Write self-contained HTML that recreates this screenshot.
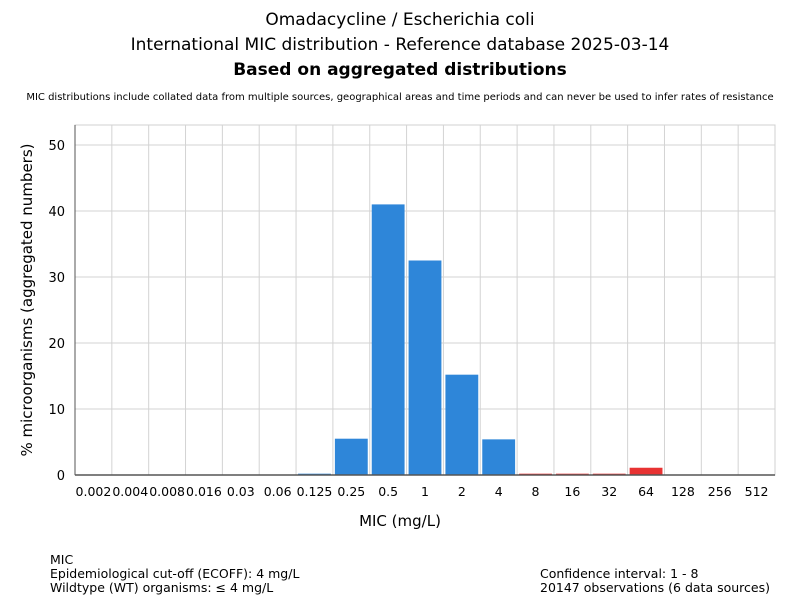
<!DOCTYPE html>
<html><head><meta charset="utf-8"><style>
body{margin:0;background:#fff;font-family:"Liberation Sans","DejaVu Sans",sans-serif;}
svg text{font-family:"DejaVu Sans","Liberation Sans",sans-serif;}
</style></head><body>
<svg id="chart" width="800" height="600" xmlns="http://www.w3.org/2000/svg">
<text x="400" y="25" text-anchor="middle" font-size="17" fill="#000">Omadacycline / Escherichia coli</text>
<text x="400" y="50" text-anchor="middle" font-size="17" fill="#000">International MIC distribution - Reference database 2025-03-14</text>
<text x="400" y="75" text-anchor="middle" font-size="17" font-weight="bold" fill="#000">Based on aggregated distributions</text>
<text x="400" y="100" text-anchor="middle" font-size="10" fill="#000">MIC distributions include collated data from multiple sources, geographical areas and time periods and can never be used to infer rates of resistance</text>
<g id="grid"></g>
<g id="bars"></g>
<g id="axes"></g>
<text x="400" y="526" text-anchor="middle" font-size="15">MIC (mg/L)</text>
<text transform="translate(32,300) rotate(-90)" text-anchor="middle" font-size="15">% microorganisms (aggregated numbers)</text>
<g font-size="12.5" fill="#000">
<text x="50" y="564">MIC</text>
<text x="50" y="578">Epidemiological cut-off (ECOFF): 4 mg/L</text>
<text x="50" y="592">Wildtype (WT) organisms: ≤ 4 mg/L</text>
</g>
<g font-size="12.5" fill="#000">
<text x="540" y="578">Confidence interval: 1 - 8</text>
<text x="540" y="592">20147 observations (6 data sources)</text>
</g>
</svg>
<script>
const categories=["0.002","0.004","0.008","0.016","0.03","0.06","0.125","0.25","0.5","1","2","4","8","16","32","64","128","256","512"];
const values=[0,0,0,0,0,0,0.2,5.5,41,32.5,15.2,5.4,0.2,0.2,0.2,1.1,0,0,0];
const yTicks=[0,10,20,30,40,50];
const ecoff=4;
const NS="http://www.w3.org/2000/svg";
const L=75,R=775,T=125,B=475;
const bw=(R-L)/categories.length;
function xPos(i){return L+i*bw;}
function yPos(v){return B-v*6.6;}
function mk(tag,attrs,parent){const e=document.createElementNS(NS,tag);for(const k in attrs)e.setAttribute(k,attrs[k]);parent.appendChild(e);return e;}
const grid=document.getElementById('grid'),bars=document.getElementById('bars'),axes=document.getElementById('axes');
mk('rect',{x:L,y:T,width:R-L,height:B-T,fill:'#fff',stroke:'#d0d0d0'},grid);
yTicks.forEach(t=>{
  const l=mk('line',{x1:L,x2:R,y1:yPos(t),y2:yPos(t),stroke:'#d3d3d3'},grid);
  
  
  const tx=mk('text',{x:L-10,y:yPos(t)+5,'text-anchor':'end','font-size':13,fill:'#000'},axes);
  tx.textContent=t;
  
  
});
categories.forEach((c,i)=>{
  if(i>0){const l=mk('line',{x1:xPos(i),x2:xPos(i),y1:T,y2:B,stroke:'#d3d3d3'},grid);
  
  }
  const v=values[i];
  if(v>0){
    const r=mk('rect',{x:xPos(i)+2,y:yPos(v),width:bw-4,height:B-yPos(v),fill:parseFloat(c)<=ecoff?'#2e86d9':'#e83232'},bars);
    
    
  }
  const tx=mk('text',{x:xPos(i)+bw/2,y:B+21,'text-anchor':'middle','font-size':12.5,fill:'#000'},axes);
  tx.textContent=c;
  
  
});
const xa=mk('line',{x1:L,x2:R,y1:B,y2:B,stroke:'#555','stroke-width':1.5},axes);


const ya=mk('line',{x1:L,x2:L,y1:T,y2:B,stroke:'#555','stroke-width':1},axes);


</script>
</body></html>
